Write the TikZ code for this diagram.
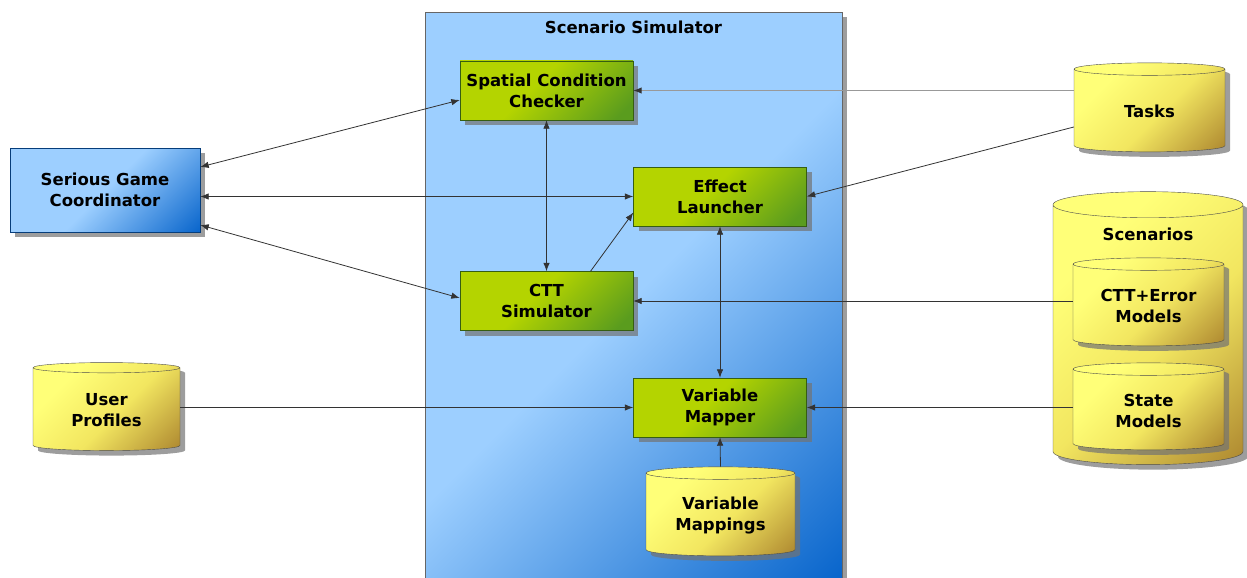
\documentclass[tikz,border=0pt]{standalone}
\usepackage{fontspec}
\setmainfont{DejaVu Sans}
\usetikzlibrary{shapes.geometric,shadows,arrows.meta}

\definecolor{simA}{HTML}{9DCFFF}
\definecolor{simB}{HTML}{0A66CC}
\definecolor{grnA}{HTML}{B4D400}
\definecolor{grnB}{HTML}{5A9C1E}
\definecolor{yelA}{HTML}{FFFF78}
\definecolor{yelM}{HTML}{F2E660}
\definecolor{yelB}{HTML}{AE8830}
\definecolor{linegray}{HTML}{333333}

\pgfdeclarehorizontalshading{simfade}{100bp}{color(0bp)=(simA); color(50bp)=(simA); color(85bp)=(simB); color(100bp)=(simB)}
\pgfdeclarehorizontalshading{greenfade}{100bp}{color(0bp)=(grnA); color(45bp)=(grnA); color(80bp)=(grnB); color(100bp)=(grnB)}
\pgfdeclarehorizontalshading{yellowfade}{100bp}{color(0bp)=(yelA); color(30bp)=(yelA); color(55bp)=(yelM); color(85bp)=(yelB); color(100bp)=(yelB)}

\begin{document}
\begin{tikzpicture}[x=1pt,y=-1pt,
  >={Latex[length=8.5pt,width=6.5pt]},
  every node/.style={font=\fontsize{16.5}{21}\selectfont\bfseries, align=center},
  shadowed/.style={drop shadow={shadow xshift=5pt,shadow yshift=-5pt,fill=black!55,opacity=.7}},
  simbox/.style={rectangle, draw=black!60, shade, shading=simfade, shading angle=-45, minimum width=417pt, minimum height=567pt, shadowed},
  greenbox/.style={rectangle, draw=grnB!60!black, shade, shading=greenfade, shading angle=-45, minimum width=173pt, minimum height=59pt, shadowed},
  bluebox/.style={rectangle, draw=simB!60!black, shade, shading=simfade, shading angle=-45, minimum width=190pt, minimum height=84pt, shadowed},
  store/.style={cylinder, shape border rotate=90, aspect=0.085, text width=140pt, draw=black!70, shade, shading=yellowfade, shading angle=-45, minimum width=151pt, minimum height=89pt, shadowed},
  link/.style={draw=linegray, line width=0.8pt}]
\useasboundingbox (0,0) rectangle (1247,578);

% simulator frame
\node[simbox] (sim) at (633.5,296) {};
\node (simtitle) at (633.5,27) {Scenario Simulator};

% components
\node[greenbox] (scc) at (546.5,90.5) {Spatial Condition\\Checker};
\node[greenbox] (el) at (720,196.5) {Effect\\Launcher};
\node[greenbox] (ctt) at (546.5,301) {CTT\\Simulator};
\node[greenbox] (vm) at (720,407.5) {Variable\\Mapper};
\node[store, minimum width=149pt] (vmaps) at (720.5,515.5) {Variable\\Mappings};

% outside
\node[bluebox] (sgc) at (105,190) {Serious Game\\Coordinator};
\node[store, aspect=0.07, minimum width=147pt, minimum height=88pt] (up) at (106.5,410) {User\\Profiles};
\node[store] (tasks) at (1149.5,111.5) {Tasks};
\node[store, aspect=0.14, text width=180pt, minimum width=190pt, minimum height=273pt] (scen) at (1148,336.5) {};
\node (scentitle) at ([yshift=-43pt]scen.north) {Scenarios};
\node[store, minimum height=88pt] (ctterr) at (1148.5,306) {CTT+Error\\Models};
\node[store, minimum height=87pt] (state) at (1148.5,410.5) {State\\Models};

% connectors
\draw[link,<->] ([yshift=23pt]sgc.east) -- ([yshift=-9.5pt]scc.west);
\draw[link,<->] (sgc.east |- el.west) -- (el.west);
\draw[link,<->] ([yshift=-35pt]sgc.east) -- ([yshift=3pt]ctt.west);
\draw[link,<->] (scc.south) -- (ctt.north);
\draw[link,->] ([xshift=44pt]ctt.north) -- ([yshift=-16pt]el.west);
\draw[link,<->] (el.south) -- (vm.north);
\draw[link,->] (vmaps.north) -- (vm.south);
\draw[link,-{Latex[length=8.5pt,width=6.5pt,color=linegray]},draw=black!40,line width=1.2pt] (tasks.west |- scc.east) -- (scc.east);
\draw[link,->] ([yshift=-15.5pt]tasks.west) -- (el.east);
\draw[link,->] (ctterr.west |- ctt.east) -- (ctt.east);
\draw[link,->] (state.west |- vm.east) -- (vm.east);
\draw[link,->] (up.east |- vm.west) -- (vm.west);
\end{tikzpicture}
\end{document}
